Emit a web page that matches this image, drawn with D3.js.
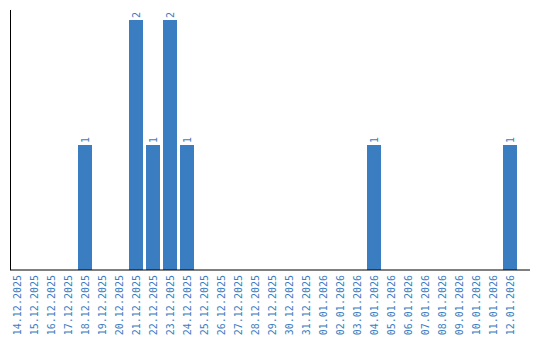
<!DOCTYPE html>
<html>
<head>
<meta charset="utf-8">
<script src="https://cdn.jsdelivr.net/npm/d3@7"></script>
<style>
  body { margin: 0; background: #fff; }
  svg { display: block; }
</style>
</head>
<body>
<div id="chart"></div>
<script>
const dates = ["14.12.2025","15.12.2025","16.12.2025","17.12.2025","18.12.2025","19.12.2025","20.12.2025",
  "21.12.2025","22.12.2025","23.12.2025","24.12.2025","25.12.2025","26.12.2025","27.12.2025","28.12.2025",
  "29.12.2025","30.12.2025","31.12.2025","01.01.2026","02.01.2026","03.01.2026","04.01.2026","05.01.2026",
  "06.01.2026","07.01.2026","08.01.2026","09.01.2026","10.01.2026","11.01.2026","12.01.2026"]
const counts = [0,0,0,0,1,0,0, 2,1,2,1,0,0,0,0, 0,0,0,0,0,0,1,0, 0,0,0,0,0,0,1]

const width = 540, height = 340
const margin = ({top: 10, right: 10, bottom: 70, left: 10})
const blue = "#3b7dc1"

const svg = d3.select("#chart").append("svg")
  .attr("width", width).attr("height", height)

const x = d3.scaleBand()
  .domain(dates)
  .range([margin.left, 517])
  .paddingInner(3/17)
  .paddingOuter(0)

const y = d3.scaleLinear()
  .domain([0, 2])
  .range([height - margin.bottom, 20])

// bars
svg.append("g").selectAll("rect")
  .data(dates.map((d, i) => ({date: d, value: counts[i]})).filter(d => d.value > 0))
  .join("rect")
    .attr("x", d => x(d.date))
    .attr("y", d => y(d.value))
    .attr("width", x.bandwidth())
    .attr("height", d => y(0) - y(d.value))
    .attr("fill", blue)

// value labels
svg.append("g").selectAll("text")
  .data(dates.map((d, i) => ({date: d, value: counts[i]})).filter(d => d.value > 0))
  .join("text")
    .attr("transform", d => `translate(${x(d.date) + x.bandwidth()/2},${y(d.value) - 2}) rotate(-90)`)
    .attr("dy", "0.35em")
    .attr("font-family", "DejaVu Sans Mono")
    .attr("font-size", 10)
    .attr("fill", blue)
    .text(d => d.value)

// x axis
const gx = svg.append("g")
  .attr("transform", `translate(0,${height - margin.bottom})`)
  .call(d3.axisBottom(x).tickSize(0).tickPadding(0))
gx.select(".domain").remove()
gx.append("line")
  .attr("x1", margin.left).attr("x2", width - margin.right)
  .attr("stroke", "#000")
gx.selectAll(".tick text")
  .attr("transform", "rotate(-90)")
  .attr("x", -5).attr("y", 0)
  .attr("dy", "0.35em")
  .attr("text-anchor", "end")
  .attr("font-family", "DejaVu Sans Mono")
  .attr("font-size", 10)
  .attr("fill", blue)

// y axis line
svg.append("line")
  .attr("x1", margin.left + 0.5).attr("x2", margin.left + 0.5)
  .attr("y1", margin.top).attr("y2", height - margin.bottom)
  .attr("stroke", "#000")
</script>
</body>
</html>
